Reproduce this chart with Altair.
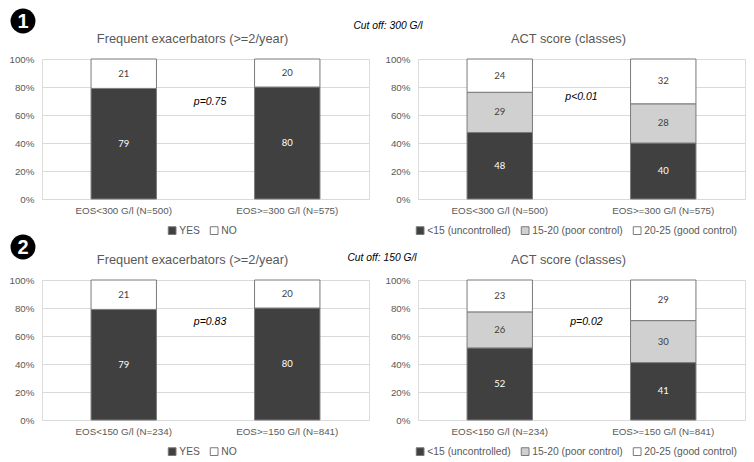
import altair as alt
import pandas as pd

# ---------------- data ----------------
groups_300 = ["EOS<300 G/l (N=500)", "EOS>=300 G/l (N=575)"]
groups_150 = ["EOS<150 G/l (N=234)", "EOS>=150 G/l (N=841)"]

exac_series = ["YES", "NO"]
act_series = ["<15 (uncontrolled)", "15-20 (poor control)", "20-25 (good control)"]

exac_300_yes = [79, 80]
exac_300_no = [21, 20]
act_300_unc = [48, 40]
act_300_poor = [29, 28]
act_300_good = [24, 32]

exac_150_yes = [79, 80]
exac_150_no = [21, 20]
act_150_unc = [52, 41]
act_150_poor = [26, 30]
act_150_good = [23, 29]

y_ticks = [0, 20, 40, 60, 80, 100]
p_values = ["p=0.75", "p<0.01", "p=0.83", "p=0.02"]
p_value_heights = [69, 73, 70, 70]
panel_titles = ["Frequent exacerbators (>=2/year)", "ACT score (classes)"]
cutoffs = ["Cut off: 300 G/l", "Cut off: 150 G/l"]
badges = ["1", "2"]

# ---------------- style ----------------
FONT = "Liberation Sans"
W, H = 327, 140
DARK, GREY, WHITE = "#404040", "#d0d0d0", "#ffffff"
EDGE = "#7a7a7a"
TXT = "#595959"


def make_df(groups, series, values_list):
    rows = []
    for gi, g in enumerate(groups):
        total = sum(v[gi] for v in values_list)
        cum = 0
        for si, (s, v) in enumerate(zip(series, values_list)):
            y0 = 100 * cum / total
            cum += v[gi]
            y1 = 100 * cum / total
            rows.append(dict(group=g, series=s, value=v[gi], y0=y0, y1=y1,
                             mid=(y0 + y1) / 2, order=si))
    return pd.DataFrame(rows)


def text_mark(label, dx, dy, **kw):
    d = pd.DataFrame({"t": [label]})
    return alt.Chart(d).mark_text(baseline="middle", **kw).encode(
        x=alt.value(dx), y=alt.value(dy), text="t:N")


def panel(df, groups, series, colors, title, pval, pval_y, pval_xfrac,
          legend_x, extras):
    base = alt.Chart(df)
    x = alt.X("group:N", sort=groups,
              scale=alt.Scale(paddingInner=0.6, paddingOuter=0.3),
              axis=alt.Axis(title=None, labelAngle=0, domain=False, ticks=False,
                            tickSize=0, labelPadding=6, labelFontSize=9.8,
                            labelColor=TXT, labelFont=FONT))
    y = alt.Y("y0:Q", scale=alt.Scale(domain=[0, 100], nice=False),
              axis=alt.Axis(title=None, values=y_ticks, tickCount=len(y_ticks),
                            labelExpr="datum.value + '%'",
                            labelOverlap=False, labelSeparation=0,
                            domain=False, ticks=False, tickSize=0,
                            labelPadding=8, gridColor="#d9d9d9",
                            labelFontSize=9.8, labelColor=TXT, labelFont=FONT))
    bars = base.mark_bar(stroke=EDGE, strokeWidth=1).encode(
        x=x, y=y, y2="y1:Q",
        color=alt.Color("series:N", sort=series,
                        scale=alt.Scale(domain=series, range=colors),
                        legend=alt.Legend(title=None, orient="none",
                                          legendX=legend_x, legendY=H + 26,
                                          direction="horizontal",
                                          columns=len(series),
                                          symbolType="square", symbolSize=60,
                                          symbolStrokeColor=EDGE,
                                          symbolStrokeWidth=1,
                                          labelFontSize=10.3, labelColor=TXT,
                                          labelFont=FONT, columnPadding=8,
                                          labelOffset=2)),
        order=alt.Order("order:Q"),
    )
    labels = base.mark_text(fontSize=9.5, font="Lato").encode(
        x=alt.X("group:N", sort=groups),
        y=alt.Y("mid:Q"),
        text=alt.Text("value:Q"),
        color=alt.condition(alt.datum.order == 0, alt.value("white"),
                            alt.value("#404040")),
    )
    ptext = alt.Chart(pd.DataFrame({"t": [pval], "y": [pval_y]})).mark_text(
        fontStyle="italic", fontSize=10.5, color="black", font=FONT
    ).encode(x=alt.value(W * pval_xfrac), y=alt.Y("y:Q"), text="t:N")
    ttl = text_mark(title, W / 2 - 13, -20, fontSize=12.8, color=TXT, font=FONT)
    layers = [bars, labels, ptext, ttl] + extras
    return alt.layer(*layers).properties(width=W, height=H)


def badge(label, dy):
    d = pd.DataFrame({"t": [label]})
    circ = alt.Chart(d).mark_circle(size=620, color="black", opacity=1).encode(
        x=alt.value(-19), y=alt.value(dy))
    txt = text_mark(label, -19, dy + 1, fontSize=20, fontWeight="bold",
                    color="white", font=FONT)
    return [circ, txt]


def cutoff(label, dx, dy):
    return [text_mark(label, dx, dy, fontStyle="italic", fontSize=10.3,
                      color="black", font=FONT)]


df_e300 = make_df(groups_300, exac_series, [exac_300_yes, exac_300_no])
df_a300 = make_df(groups_300, act_series, [act_300_unc, act_300_poor, act_300_good])
df_e150 = make_df(groups_150, exac_series, [exac_150_yes, exac_150_no])
df_a150 = make_df(groups_150, act_series, [act_150_unc, act_150_poor, act_150_good])

p1 = panel(df_e300, groups_300, exac_series, [DARK, WHITE], panel_titles[0],
           p_values[0], p_value_heights[0], 0.514, 125, badge(badges[0], -38))
p2 = panel(df_a300, groups_300, act_series, [DARK, GREY, WHITE], panel_titles[1],
           p_values[1], p_value_heights[1], 0.50, -3, cutoff(cutoffs[0], -30, -33))
p3 = panel(df_e150, groups_150, exac_series, [DARK, WHITE], panel_titles[0],
           p_values[2], p_value_heights[2], 0.514, 125, badge(badges[1], -33))
p4 = panel(df_a150, groups_150, act_series, [DARK, GREY, WHITE], panel_titles[1],
           p_values[3], p_value_heights[3], 0.515, -3, cutoff(cutoffs[1], -36, -22))

chart = alt.concat(p1, p2, p3, p4, columns=2,
                   spacing={"row": 81, "column": 49}, bounds="flush",
                   padding=0).resolve_scale(
    color="independent"
).configure_view(stroke="transparent").configure(background="white")

chart.save("out.html", embed_options={"renderer": "svg", "actions": False})
